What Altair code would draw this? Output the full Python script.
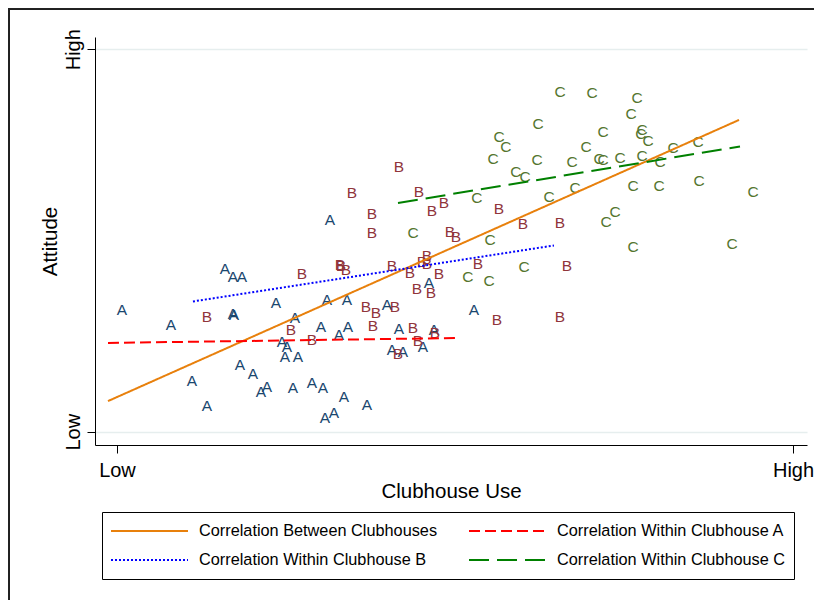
import altair as alt
import pandas as pd

# ---- data (axis units: Low = 0, High = 100) ----
a_x = [0.74, 7.99, 11.09, 13.31, 15.98, 17.16, 18.49, 17.16, 17.31, 18.20,
       20.12, 21.30, 22.19, 23.52, 24.41, 25.15, 24.85, 26.78, 26.33, 26.04,
       28.85, 30.47, 31.07, 31.51, 30.18, 32.84, 34.17, 34.02, 33.58, 30.77,
       32.10, 36.98, 39.94, 40.68, 41.72, 42.31, 45.27, 46.15, 46.89, 52.81]
a_y = [31.8, 27.9, 13.3, 6.7, 42.5, 40.4, 40.4, 30.8, 30.5, 17.4,
       15.1, 10.4, 11.7, 33.7, 23.5, 22.2, 19.5, 19.5, 29.7, 11.4,
       12.7, 11.4, 34.4, 55.4, 27.4, 25.3, 27.4, 34.4, 9.1, 3.6,
       4.9, 7.0, 33.1, 21.4, 26.9, 20.8, 22.2, 38.9, 26.6, 31.8]

b_x = [13.31, 41.72, 34.76, 44.67, 48.37, 46.60, 37.72, 37.72, 49.26, 50.15,
       27.37, 32.99, 33.14, 33.88, 40.68, 43.34, 45.86, 45.12, 45.86, 47.63,
       44.38, 46.45, 36.83, 38.31, 41.12, 37.87, 43.79, 44.53, 47.04, 41.57,
       25.74, 28.85, 56.51, 60.06, 65.53, 53.40, 66.57, 56.21, 65.53]
b_y = [30.0, 69.2, 62.4, 62.7, 59.8, 57.7, 56.9, 52.0, 52.2, 50.9,
       41.2, 43.6, 43.3, 42.3, 43.3, 41.5, 46.0, 44.4, 43.9, 41.2,
       37.3, 36.3, 32.6, 31.0, 32.6, 27.6, 27.1, 23.7, 25.8, 20.3,
       26.6, 24.0, 58.2, 54.3, 54.6, 43.9, 43.3, 29.2, 30.0]

c_x = [43.79, 65.53, 62.28, 56.51, 57.54, 55.62, 62.13, 59.02, 60.36, 67.31,
       53.25, 63.91, 67.75, 55.18, 60.21, 51.92, 55.03, 70.27, 76.92, 76.04,
       71.89, 77.66, 77.51, 78.55, 69.38, 71.30, 71.89, 74.41, 77.66, 82.25,
       85.95, 80.33, 76.33, 80.18, 86.09, 94.08, 73.67, 72.34, 76.33, 90.98]
c_y = [52.0, 88.8, 80.5, 77.1, 74.5, 71.3, 71.1, 67.9, 66.6, 70.5,
       61.1, 61.4, 63.7, 50.1, 43.1, 40.5, 39.4, 88.6, 87.3, 83.1,
       78.4, 78.9, 77.9, 76.0, 74.5, 71.3, 71.1, 71.6, 72.1, 74.2,
       75.8, 70.5, 64.3, 64.3, 65.6, 62.7, 57.5, 54.8, 48.3, 49.1]

clubs = ["A", "B", "C"]
club_colors = ["#1a476f", "#90353b", "#55752f"]

line_names = ["Correlation Between Clubhouses", "Correlation Within Clubhouse A",
              "Correlation Within Clubhouse B", "Correlation Within Clubhouse C"]
line_colors = ["#e8800c", "#ff0000", "#0000ff", "#008000"]
line_dashes = [[1, 0], [11, 5], [2, 2], [20, 8]]
line_x0 = [-1.33, -1.33, 11.24, 41.57]
line_y0 = [8.0, 23.2, 34.05, 59.8]
line_x1 = [92.01, 50.3, 64.64, 92.16]
line_y1 = [81.51, 24.5, 48.69, 74.58]

tick_values = [0, 100]
tick_labels = ["Low", "High"]

# ---- tables ----
pts = pd.DataFrame({
    "club": ["A"] * len(a_x) + ["B"] * len(b_x) + ["C"] * len(c_x),
    "x": a_x + b_x + c_x,
    "y": a_y + b_y + c_y,
})
rows = []
for n, x0, y0, x1, y1 in zip(line_names, line_x0, line_y0, line_x1, line_y1):
    rows.append({"series": n, "x": x0, "y": y0})
    rows.append({"series": n, "x": x1, "y": y1})
lines = pd.DataFrame(rows)

# legend fills column by column: order so that rows read (Between, A) / (B, C)
order = [0, 2, 1, 3]
leg_domain = [line_names[i] for i in order]
leg_colors = [line_colors[i] for i in order]
leg_dashes = [line_dashes[i] for i in order]

label_expr = " : ".join(
    f"datum.value == {v} ? '{l}'" for v, l in zip(tick_values[:-1], tick_labels[:-1])
) + f" : '{tick_labels[-1]}'"

FONT = "Liberation Sans"
xscale = alt.Scale(domain=[-3.25, 102.07], nice=False, zero=False)
yscale = alt.Scale(domain=[-3.48, 103.2], nice=False, zero=False)

xaxis = alt.Axis(values=tick_values, labelExpr=label_expr, title="Clubhouse Use",
                 grid=False, tickSize=8, tickColor="black", domainColor="black",
                 labelFont=FONT, labelFontSize=20, labelColor="black", labelPadding=7,
                 titleFont=FONT, titleFontSize=20.5, titleFontWeight="normal",
                 titleColor="black", titlePadding=1)
yaxis = alt.Axis(values=tick_values, labelExpr=label_expr, title="Attitude",
                 grid=True, gridColor="#e6eeee", gridWidth=1.5,
                 tickSize=8, tickColor="black", domainColor="black",
                 labelAngle=270, labelFont=FONT, labelFontSize=20, labelColor="black",
                 labelPadding=4,
                 titleFont=FONT, titleFontSize=20.5, titleFontWeight="normal",
                 titleColor="black", titlePadding=3)

points = alt.Chart(pts).mark_text(font=FONT, fontSize=15.5, baseline="middle",
                                  align="center").encode(
    x=alt.X("x:Q", scale=xscale, axis=xaxis),
    y=alt.Y("y:Q", scale=yscale, axis=yaxis),
    text="club:N",
    fill=alt.Fill("club:N", scale=alt.Scale(domain=clubs, range=club_colors),
                  legend=None),
)

leg = dict(title=None, orient="none", legendX=7, legendY=475, columns=2,
           symbolType="stroke", symbolSize=5929, symbolStrokeWidth=2,
           clipHeight=22,
           labelFont=FONT, labelFontSize=16.3, labelColor="black", labelOffset=10,
           columnPadding=30, rowPadding=7, padding=8, strokeColor="black",
           labelLimit=400)

line_chart = alt.Chart(lines).mark_line(strokeWidth=2).encode(
    x=alt.X("x:Q", scale=xscale),
    y=alt.Y("y:Q", scale=yscale),
    detail="series:N",
    color=alt.Color("series:N", scale=alt.Scale(domain=leg_domain, range=leg_colors),
                    legend=alt.Legend(**leg)),
    strokeDash=alt.StrokeDash("series:N", scale=alt.Scale(domain=leg_domain,
                              range=leg_dashes),
                              legend=alt.Legend(**leg)),
)

frame_top = alt.Chart(pts).mark_rule(color="#222", strokeWidth=1.5).encode(
    x=alt.value(-87), x2=alt.value(740), y=alt.value(-28.5))
frame_left = alt.Chart(pts).mark_rule(color="#222", strokeWidth=1.5).encode(
    x=alt.value(-86.5), y=alt.value(-29), y2=alt.value(600))

chart = alt.layer(frame_top, frame_left, points, line_chart).properties(
    width=712, height=408,
    padding={"left": 87, "top": 29, "right": 7, "bottom": 155},
    autosize=alt.AutoSizeParams(type="none"),
).configure_view(stroke=None)

chart.save("out.html", embed_options={"renderer": "svg", "actions": False})
